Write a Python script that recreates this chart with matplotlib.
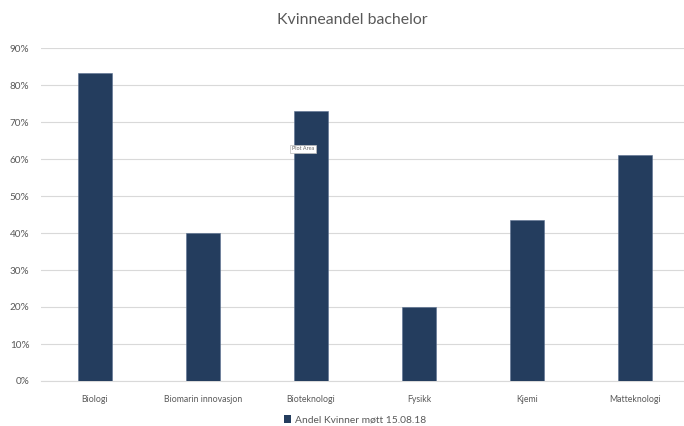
import matplotlib
matplotlib.use("Agg")
import matplotlib.pyplot as plt
from matplotlib.ticker import PercentFormatter
from matplotlib.patches import Patch

categories = ["Biologi", "Biomarin innovasjon", "Bioteknologi", "Fysikk", "Kjemi", "Matteknologi"]
values = [83.3, 40.0, 73.0, 20.0, 43.6, 61.1]
series_name = "Andel Kvinner møtt 15.08.18"
title = "Kvinneandel bachelor"

plt.rcParams['font.family'] = ['Lato', 'DejaVu Sans']
text_color = "#595959"
bar_color = "#243d5e"

fig = plt.figure(figsize=(6.84, 4.26), dpi=100)
ax = fig.add_axes([40.5/684, 1 - 381/426, 649/684, (381 - 48)/426])

x = list(range(len(categories)))
ax.bar(x, values, width=0.315, color=bar_color, edgecolor="#5a7090", linewidth=0.4, zorder=3)

ax.set_xlim(-0.5, len(categories) - 0.5)
ax.set_ylim(0, 90)
ax.set_yticks(range(0, 91, 10))
ax.yaxis.set_major_formatter(PercentFormatter(decimals=0))
ax.set_xticks(x)
ax.set_xticklabels(categories)
ax.grid(axis='y', color="#d9d9d9", linewidth=0.8, zorder=0)
for s in ["top", "right", "left"]:
    ax.spines[s].set_visible(False)
ax.spines["bottom"].set_color("#d9d9d9")
ax.spines["bottom"].set_linewidth(0.8)
ax.tick_params(axis='x', length=0, labelsize=6.3, colors=text_color, pad=10)
ax.tick_params(axis='y', length=0, labelsize=7.2, colors=text_color, pad=8)

fig.text(0.5 + 10/684, 1 - 20/426, title, ha='center', va='center', fontsize=11.4, color=text_color)

fig.legend(handles=[Patch(facecolor=bar_color, label=series_name)], loc='center',
           bbox_to_anchor=(355/684, 1 - 420/426), frameon=False, fontsize=7.4,
           labelcolor=text_color, handlelength=0.7, handleheight=0.7, handletextpad=0.4,
           borderaxespad=0, borderpad=0)

fig.text(303/684, 1 - 149/426, "Plot Area", ha='center', va='center', fontsize=4,
         color="#666666", zorder=10,
         bbox=dict(boxstyle='square,pad=0.3', facecolor='white', edgecolor='#bbbbbb', linewidth=0.5))

fig.savefig("out.png", dpi=100)
